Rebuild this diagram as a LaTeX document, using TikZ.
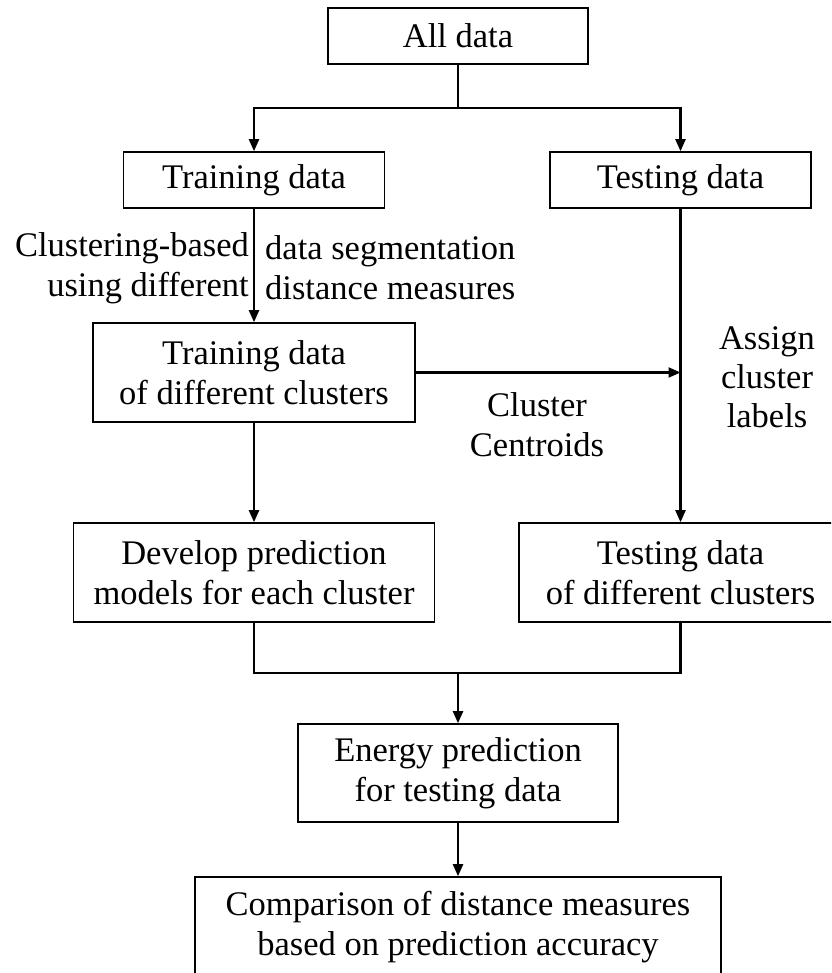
\documentclass[tikz,border=0pt]{standalone}
\usepackage{fontspec}
\setmainfont{Liberation Serif}
\usetikzlibrary{arrows.meta}
\tikzset{
  box/.style={draw, line width=1.6pt, align=center, inner sep=0pt,
    font=\fontsize{34.5}{40}\selectfont},
  lbl/.style={align=center, inner sep=0pt, font=\fontsize{34.5}{40}\selectfont},
  conn/.style={draw, line width=2.2pt},
  arr/.style={conn, -{Triangle[length=12pt,width=10pt]}}
}
\begin{document}
\begin{tikzpicture}[x=1pt,y=-1pt]
\useasboundingbox (0,0) rectangle (831,973);
\clip (0,0) rectangle (831,973);
% boxes
\node[box, minimum width=260, minimum height=56] (all) at (458,36) {All data};
\node[box, minimum width=261, minimum height=56] (train) at (254,180) {Training data};
\node[box, minimum width=261, minimum height=56] (test) at (680.5,180) {Testing data};
\node[box, minimum width=322, minimum height=99] (trclu) at (254,372.5) {Training data\\of different clusters};
\node[box, minimum width=361, minimum height=99] (dev) at (254,572.5) {Develop prediction\\models for each cluster};
\node[box, minimum width=323, minimum height=99] (teclu) at (680.5,572.5) {Testing data\\of different clusters};
\node[box, minimum width=320, minimum height=98] (energy) at (458,773) {Energy prediction\\for testing data};
\node[box, minimum width=526, minimum height=100] (comp) at (458,927) {Comparison of distance measures\\based on prediction accuracy};
% labels
\node[lbl, anchor=east, align=right] (seg1) at (249,268) {Clustering-based\\using different};
\node[lbl, anchor=west, align=left] (seg2) at (265,268) {data segmentation\\distance measures};
\node[lbl] (cent) at (537,425) {Cluster\\Centroids};
\node[lbl, font=\fontsize{34.5}{39}\selectfont] (assign) at (767,377) {Assign\\cluster\\labels};
% connectors
\coordinate (split) at (458,108);
\draw[conn] (all.south) -- (split);
\draw[arr] (split) -| (train.north);
\draw[arr] (split) -| (test.north);
\draw[arr] (train.south) -- (trclu.north);
\draw[arr] (test.south) -- (teclu.north);
\draw[arr] (trclu.east) -- (test.south |- trclu.east);
\draw[arr] (trclu.south) -- (dev.north);
\coordinate (join) at (458,673);
\draw[conn] (dev.south) |- (join) -| (teclu.south);
\draw[arr] (join) -- (energy.north);
\draw[arr] (energy.south) -- (comp.north);
\end{tikzpicture}
\end{document}
